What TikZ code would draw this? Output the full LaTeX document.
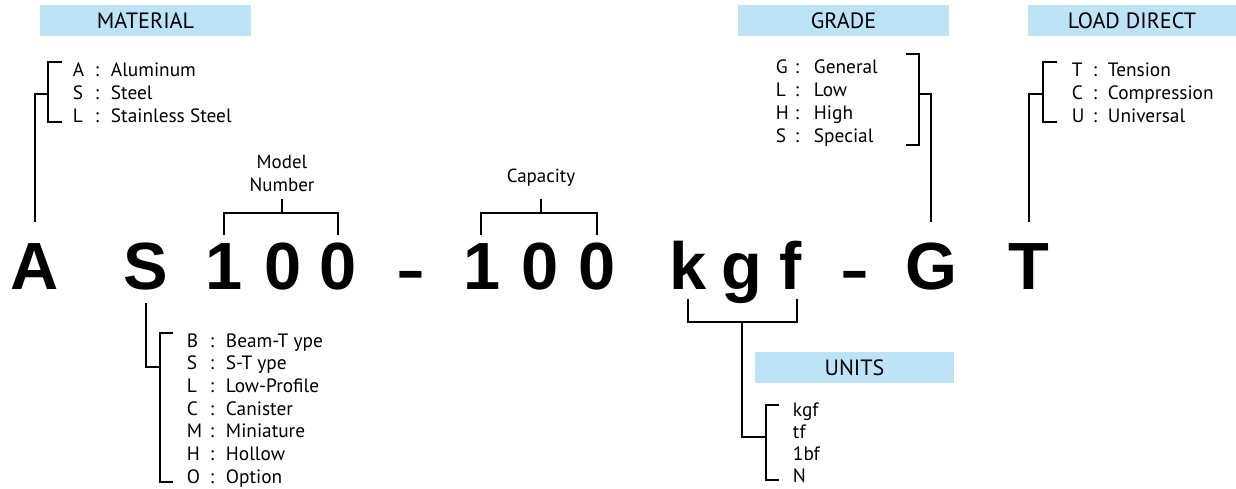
\documentclass[tikz,border=0pt]{standalone}
\usepackage{fontspec}
\setmainfont{PT Sans}
\newfontfamily\bigfont{Liberation Sans}
\usetikzlibrary{positioning,calc}
\definecolor{tagblue}{RGB}{189,227,247}

\begin{document}
\begin{tikzpicture}[x=0.02cm,y=-0.02cm,line width=1.1pt,
  big/.style={font=\bigfont\bfseries\fontsize{38}{40}\selectfont,inner sep=0pt,anchor=base},
  tag/.style={fill=tagblue,minimum height=0.62cm,inner sep=0pt,font=\fontsize{12.6}{14}\selectfont},
  item/.style={font=\fontsize{11}{13}\selectfont,inner sep=0pt,anchor=base west},
  colon/.style={item,anchor=base}]
  \useasboundingbox (0,0) rectangle (1236,489);
  \coordinate (upper) at (0,222);
  \coordinate (lower) at (0,303);

  % the code itself
  \foreach \n/\x/\t in {A/35/A,S/146/S,m1/224/1,m2/283/0,m3/338/0,c1/482/1,c2/540/0,c3/597/0,
                        k/688/k,g/742/g,f/791/f,G/931/G,T/1029/T}
     \node[big] (\n) at (\x,290) {\t};
  \node[big] (d1) at (411,290) {\scalebox{1.3}[0.85]{-}};
  \node[big] (d2) at (855,290) {\scalebox{1.3}[0.85]{-}};

  % headers
  \node[tag,minimum width=4.22cm] (material) at (145.5,20.5) {MATERIAL};
  \node[tag,minimum width=4.22cm] (grade) at (843.5,20.5) {GRADE};
  \node[tag,minimum width=4.16cm] (load) at (1132,20.5) {LOAD DIRECT};
  \node[tag,minimum width=3.98cm] (units) at (854.5,367.5) {UNITS};

  % material
  \foreach \l/\w [count=\i] in {A/Aluminum,S/Steel,L/Stainless Steel}
     {\node[item] (mat\i) at (72,{77+23*(\i-1)}) {\l};
      \node[colon] (matc\i) at (97,{77+23*(\i-1)}) {:};
      \node[item] (matw\i) at (110,{77+23*(\i-1)}) {\w};}
  \draw (62,62) -| (48,122) -- (62,122);
  \coordinate (matmid) at (48,94);
  \draw (matmid) -| (A |- upper);

  % grade
  \foreach \l/\w [count=\i] in {G/General,L/Low,H/High,S/Special}
     {\node[item] (gr\i) at (775,{74+23*(\i-1)}) {\l};
      \node[colon] (grc\i) at (797,{74+23*(\i-1)}) {:};
      \node[item] (grw\i) at (813,{74+23*(\i-1)}) {\w};}
  \draw (906,54) -| (919,145) -- (906,145);
  \coordinate (grmid) at (919,94);
  \draw (grmid) -| (G |- upper);

  % load direction
  \foreach \l/\w [count=\i] in {T/Tension,C/Compression,U/Universal}
     {\node[item] (ld\i) at (1071,{77+23*(\i-1)}) {\l};
      \node[colon] (ldc\i) at (1095,{77+23*(\i-1)}) {:};
      \node[item] (ldw\i) at (1107,{77+23*(\i-1)}) {\w};}
  \draw (1057,62) -| (1043,122) -- (1057,122);
  \coordinate (ldmid) at (1043,94);
  \draw (ldmid) -| (T |- upper);

  % model number and capacity
  \node[font=\fontsize{10.8}{13}\selectfont,align=center,anchor=south,inner sep=3.4pt] (model) at (282,199) {Model\\Number};
  \draw (model.south) -- ++(0,14);
  \draw (m1 |- 0,235) |- (m3 |- 0,213) -- (m3 |- 0,235);
  \node[font=\fontsize{10.8}{13}\selectfont,anchor=base,inner sep=0pt] (capacity) at (541,183) {Capacity};
  \coordinate (captop) at (541,199);
  \draw (captop) -- ++(0,14);
  \draw (481,235) |- (597,213) -- (597,235);

  % model type
  \foreach \l/\w [count=\i] in {B/Beam-T ype,S/S-T ype,L/Low-Profile,C/Canister,M/Miniature,H/Hollow,O/Option}
     {\node[item] (ty\i) at (186,{347+22.7*(\i-1)}) {\l};
      \node[colon] (tyc\i) at (212,{347+22.7*(\i-1)}) {:};
      \node[item] (tyw\i) at (225,{347+22.7*(\i-1)}) {\w};}
  \draw (173,333) -| (160,482) -- (173,482);
  \coordinate (tyjoin) at (160,367);
  \draw (S |- lower) |- (tyjoin);

  % units
  \draw (688,299) |- (797,322) -- (797,299);
  \coordinate (unjoin) at (766,437);
  \draw (742,322) |- (unjoin);
  \foreach \w [count=\i] in {kgf,tf,1bf,N}
     \node[item] (un\i) at (792,{416+22.3*(\i-1)}) {\w};
  \draw (779,405) -| (766,480) -- (779,480);
\end{tikzpicture}
\end{document}
